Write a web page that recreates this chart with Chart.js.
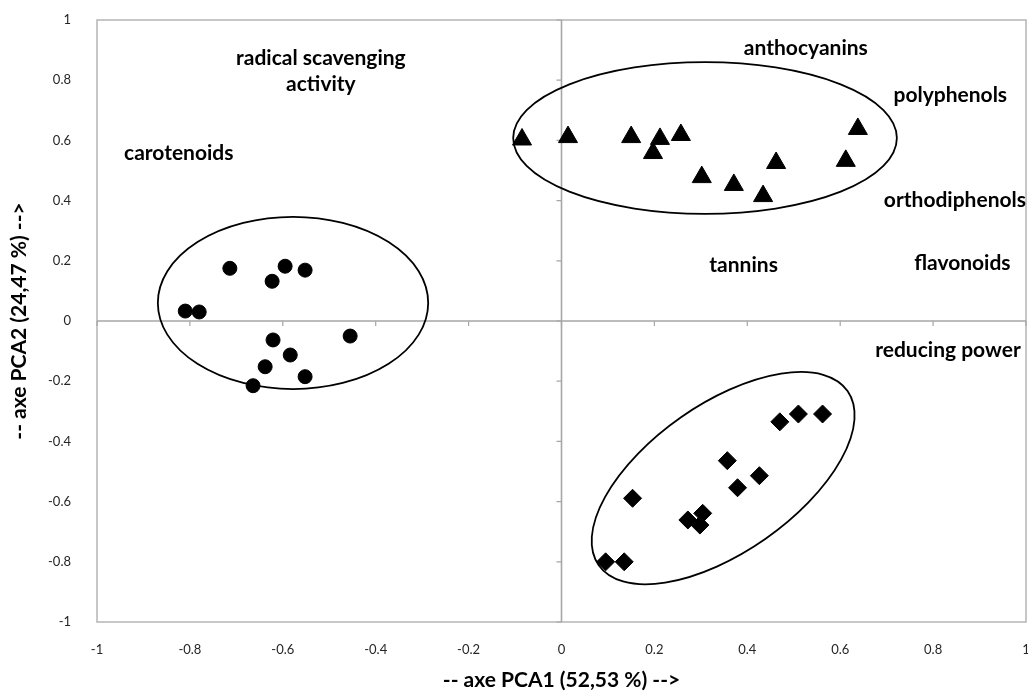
<!DOCTYPE html>
<html>
<head>
<meta charset="utf-8">
<script src="https://cdn.jsdelivr.net/npm/chart.js@4/dist/chart.umd.min.js"></script>
<style>
  html, body { margin: 0; padding: 0; background: #ffffff; }
  #wrap { width: 1028px; height: 691px; position: relative; }
</style>
</head>
<body>
<div id="wrap"><canvas id="c" width="1028" height="691"></canvas></div>
<script>
// ---- Data ----
const circleX   = [-0.714, -0.595, -0.552, -0.623, -0.810, -0.780, -0.621, -0.455, -0.584, -0.638, -0.552, -0.664];
const circleY   = [ 0.175,  0.182,  0.169,  0.132,  0.033,  0.030, -0.063, -0.050, -0.113, -0.152, -0.185, -0.215];

const triangleX = [-0.085, 0.014, 0.150, 0.212, 0.197, 0.257, 0.302, 0.371, 0.434, 0.462, 0.612, 0.638];
const triangleY = [ 0.603, 0.611, 0.611, 0.605, 0.558, 0.618, 0.478, 0.452, 0.415, 0.525, 0.532, 0.638];

const diamondX  = [ 0.470,  0.510,  0.562,  0.357,  0.426,  0.379,  0.153,  0.304,  0.272,  0.298,  0.095,  0.135];
const diamondY  = [-0.335, -0.309, -0.309, -0.464, -0.514, -0.554, -0.589, -0.639, -0.661, -0.678, -0.800, -0.800];

const tickValues = [-1, -0.8, -0.6, -0.4, -0.2, 0, 0.2, 0.4, 0.6, 0.8, 1];

const xTitle = '-- axe PCA1 (52,53 %) -->';
const yTitle = '-- axe PCA2 (24,47 %) -->';

// variable labels (text, data x, data y)
const varLabels = ['radical scavenging\nactivity', 'carotenoids', 'anthocyanins', 'polyphenols', 'orthodiphenols', 'tannins', 'flavonoids', 'reducing power'];
const varLabelX = [-0.518, -0.824, 0.526, 0.837, 0.847, 0.392, 0.863, 0.832];
const varLabelY = [ 0.831,  0.558, 0.907, 0.751, 0.402, 0.186, 0.193, -0.096];

// group ellipses (centre in data units, radii in data units, screen rotation in degrees)
const ellipseCX = [-0.578, 0.309, 0.348];
const ellipseCY = [ 0.060, 0.608, -0.522];
const ellipseRX = [ 0.291, 0.413, 0.327];
const ellipseRY = [ 0.286, 0.252, 0.246];
const ellipseRot = [0, 0, -35];

function pts(xs, ys) { return xs.map((x, i) => ({ x: x, y: ys[i] })); }

const FONT = "Lato, 'Open Sans', 'DejaVu Sans', sans-serif";
const AXIS_GRAY = '#a6a6a6';

const decorPlugin = {
  id: 'decor',
  beforeDatasetsDraw(chart) {
    const { ctx, chartArea: a, scales: { x, y } } = chart;
    ctx.save();
    // plot area border
    ctx.strokeStyle = '#b5b5b5';
    ctx.lineWidth = 1.5;
    ctx.strokeRect(a.left, a.top, a.right - a.left, a.bottom - a.top);
    // axes crossing at zero
    const x0 = x.getPixelForValue(0), y0 = y.getPixelForValue(0);
    ctx.strokeStyle = AXIS_GRAY;
    ctx.lineWidth = 1.6;
    ctx.beginPath();
    ctx.moveTo(a.left, y0); ctx.lineTo(a.right, y0);
    ctx.moveTo(x0, a.top); ctx.lineTo(x0, a.bottom);
    ctx.stroke();
    ctx.lineWidth = 1.2;
    ctx.beginPath();
    tickValues.forEach(v => {
      const px = x.getPixelForValue(v);
      ctx.moveTo(px, y0); ctx.lineTo(px, y0 + 5);
      const py = y.getPixelForValue(v);
      ctx.moveTo(x0, py); ctx.lineTo(x0 - 5, py);
    });
    ctx.stroke();
    // ellipses
    ctx.strokeStyle = '#000000';
    ctx.lineWidth = 1.8;
    ellipseCX.forEach((cx, i) => {
      const px = x.getPixelForValue(cx), py = y.getPixelForValue(ellipseCY[i]);
      const rx = Math.abs(x.getPixelForValue(cx + ellipseRX[i]) - px);
      const ry = Math.abs(y.getPixelForValue(ellipseCY[i] + ellipseRY[i]) - py);
      ctx.beginPath();
      ctx.ellipse(px, py, rx, ry, ellipseRot[i] * Math.PI / 180, 0, Math.PI * 2);
      ctx.stroke();
    });
    // variable labels
    ctx.fillStyle = '#000000';
    ctx.font = "bold 21px " + FONT;
    ctx.textAlign = 'center';
    ctx.textBaseline = 'middle';
    varLabels.forEach((t, i) => {
      const lines = t.split('\n');
      const px = x.getPixelForValue(varLabelX[i]);
      const py = y.getPixelForValue(varLabelY[i]);
      const lh = 26;
      lines.forEach((ln, j) => {
        ctx.fillText(ln, px, py + (j - (lines.length - 1) / 2) * lh);
      });
    });
    ctx.restore();
  }
};

function zeroPad(s) { s.paddingTop = 0; s.paddingBottom = 0; s.paddingLeft = 0; s.paddingRight = 0; }

new Chart(document.getElementById('c'), {
  type: 'scatter',
  data: {
    datasets: [
      { label: 'group 1', data: pts(circleX, circleY), pointStyle: 'circle', pointRadius: 7, borderWidth: 1,
        backgroundColor: '#000', borderColor: '#000' },
      { label: 'group 2', data: pts(triangleX, triangleY), pointStyle: 'triangle', pointRadius: 11, borderWidth: 1,
        backgroundColor: '#000', borderColor: '#000' },
      { label: 'group 3', data: pts(diamondX, diamondY), pointStyle: 'rectRot', pointRadius: 9, borderWidth: 1,
        backgroundColor: '#000', borderColor: '#000' }
    ]
  },
  options: {
    responsive: false,
    animation: false,
    layout: { autoPadding: false, padding: { top: 20, right: 2, bottom: 0, left: 0 } },
    plugins: { legend: { display: false }, tooltip: { enabled: false } },
    scales: {
      x: {
        type: 'linear', min: -1, max: 1,
        afterBuildTicks(s) { s.ticks = tickValues.map(v => ({ value: v })); },
        afterFit(s) { s.height = 69; zeroPad(s); },
        grid: { display: false, drawTicks: false },
        border: { display: false },
        ticks: { padding: 20, color: '#262626', font: { family: FONT, size: 13 }, maxRotation: 0,
                 callback: v => String(v) },
        title: { display: true, text: xTitle, color: '#000', font: { family: FONT, size: 21, weight: 'bold', lineHeight: 1 }, padding: { top: 0, bottom: 0 } }
      },
      y: {
        type: 'linear', min: -1, max: 1,
        afterBuildTicks(s) { s.ticks = tickValues.map(v => ({ value: v })); },
        afterFit(s) { s.width = 97; zeroPad(s); },
        grid: { display: false, drawTicks: false },
        border: { display: false },
        ticks: { padding: 26, color: '#262626', font: { family: FONT, size: 13 }, callback: v => String(v) },
        title: { display: true, text: yTitle, color: '#000', font: { family: FONT, size: 21, weight: 'bold', lineHeight: 1 }, padding: { top: 8.5, bottom: 0 } }
      }
    }
  },
  plugins: [decorPlugin]
});
</script>
</body>
</html>
